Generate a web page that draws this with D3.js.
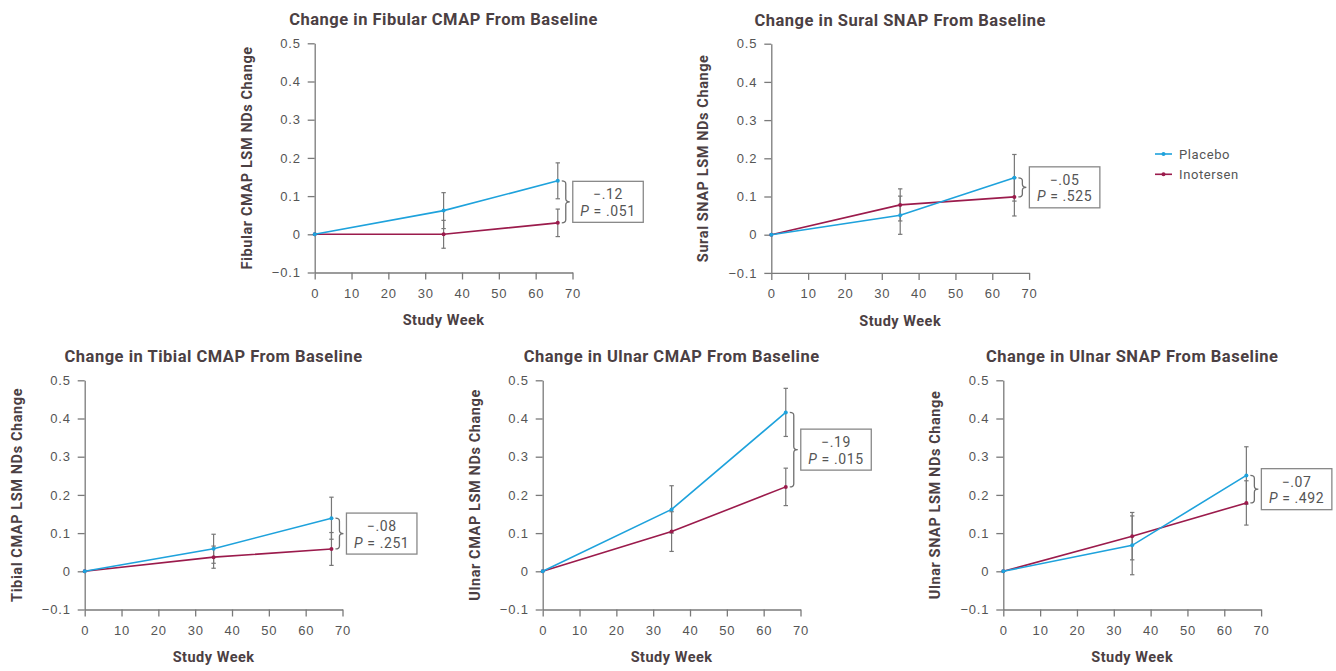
<!DOCTYPE html>
<html>
<head>
<meta charset="utf-8">
<script src="https://cdn.jsdelivr.net/npm/d3@7"></script>
<style>
  body { margin: 0; background: #fff; }
  svg { font-family: Roboto, "Noto Sans", sans-serif; }
</style>
</head>
<body>
<svg id="chart" width="1336" height="671"></svg>
<script>
// study weeks per panel
const weeks = [0, 35, 66];
const tibialWeeks = [0, 35, 67];

// LSM change, with half-width of error bars
const fibularPlacebo = [0, 0.062, 0.14];
const fibularPlaceboErr = [0, 0.047, 0.047];
const fibularInotersen = [0, 0, 0.03];
const fibularInotersenErr = [0, 0.0365, 0.036];

const suralPlacebo = [0, 0.051, 0.149];
const suralPlaceboErr = [0, 0.05, 0.061];
const suralInotersen = [0, 0.078, 0.099];
const suralInotersenErr = [0, 0.042, 0.05];

const tibialPlacebo = [0, 0.059, 0.139];
const tibialPlaceboErr = [0, 0.038, 0.055];
const tibialInotersen = [0, 0.037, 0.0585];
const tibialInotersenErr = [0, 0.029, 0.043];

const ulnarCmapPlacebo = [0, 0.162, 0.416];
const ulnarCmapPlaceboErr = [0, 0.062, 0.063];
const ulnarCmapInotersen = [0, 0.104, 0.221];
const ulnarCmapInotersenErr = [0, 0.052, 0.049];

const ulnarSnapPlacebo = [0, 0.068, 0.251];
const ulnarSnapPlaceboErr = [0, 0.077, 0.075];
const ulnarSnapInotersen = [0, 0.092, 0.179];
const ulnarSnapInotersenErr = [0, 0.062, 0.058];

const xTicks = [0, 10, 20, 30, 40, 50, 60, 70];
const yTicks = [-0.1, 0, 0.1, 0.2, 0.3, 0.4, 0.5];
const seriesNames = ['Placebo', 'Inotersen'];

const colors = { Placebo: '#1ea2dc', Inotersen: '#9b1b4c' };
const textColor = '#4b4043';
const axisColor = '#7a7a7a';

const panels = [
  {
    title: 'Change in Fibular CMAP From Baseline',
    yLabel: 'Fibular CMAP LSM NDs Change',
    left: 314.7, top: 43.3,
    weeks: weeks,
    placebo: fibularPlacebo, placeboErr: fibularPlaceboErr,
    inotersen: fibularInotersen, inotersenErr: fibularInotersenErr,
    diff: '−.12', p: '.051'
  },
  {
    title: 'Change in Sural SNAP From Baseline',
    yLabel: 'Sural SNAP LSM NDs Change',
    left: 771.3, top: 43.7,
    weeks: weeks,
    placebo: suralPlacebo, placeboErr: suralPlaceboErr,
    inotersen: suralInotersen, inotersenErr: suralInotersenErr,
    diff: '−.05', p: '.525'
  },
  {
    title: 'Change in Tibial CMAP From Baseline',
    yLabel: 'Tibial CMAP LSM NDs Change',
    left: 84.7, top: 380.3,
    weeks: tibialWeeks,
    placebo: tibialPlacebo, placeboErr: tibialPlaceboErr,
    inotersen: tibialInotersen, inotersenErr: tibialInotersenErr,
    diff: '−.08', p: '.251'
  },
  {
    title: 'Change in Ulnar CMAP From Baseline',
    yLabel: 'Ulnar CMAP LSM NDs Change',
    left: 542.7, top: 380.3,
    weeks: weeks,
    placebo: ulnarCmapPlacebo, placeboErr: ulnarCmapPlaceboErr,
    inotersen: ulnarCmapInotersen, inotersenErr: ulnarCmapInotersenErr,
    diff: '−.19', p: '.015'
  },
  {
    title: 'Change in Ulnar SNAP From Baseline',
    yLabel: 'Ulnar SNAP LSM NDs Change',
    left: 1003.3, top: 380.3,
    weeks: weeks,
    placebo: ulnarSnapPlacebo, placeboErr: ulnarSnapPlaceboErr,
    inotersen: ulnarSnapInotersen, inotersenErr: ulnarSnapInotersenErr,
    diff: '−.07', p: '.492'
  }
];

const plotW = 257.8;
const plotH = 229.2;

const svg = d3.select('#chart');

function fmtY(d) {
  if (d === 0) return '0';
  return d3.format('.1f')(d).replace('-', '−');
}

function bracePath(x, y0, y1, w) {
  const m = (y0 + y1) / 2;
  const r = Math.min(3, (y1 - y0) / 4);
  return `M${x},${y0}` +
    `Q${x + w / 2},${y0} ${x + w / 2},${y0 + r}` +
    `L${x + w / 2},${m - r}` +
    `Q${x + w / 2},${m} ${x + w},${m}` +
    `Q${x + w / 2},${m} ${x + w / 2},${m + r}` +
    `L${x + w / 2},${y1 - r}` +
    `Q${x + w / 2},${y1} ${x},${y1}`;
}

function drawPanel(cfg) {
  const g = svg.append('g')
    .attr('transform', `translate(${cfg.left},${cfg.top})`);

  const x = d3.scaleLinear().domain([0, 70]).range([0, plotW]);
  const y = d3.scaleLinear().domain([-0.1, 0.5]).range([plotH, 0]);

  const xAxis = g.append('g')
    .attr('transform', `translate(0,${plotH})`)
    .call(d3.axisBottom(x).tickValues(xTicks).tickSize(7).tickPadding(9).tickSizeOuter(0));
  const yAxis = g.append('g')
    .call(d3.axisLeft(y).tickValues(yTicks).tickFormat(fmtY).tickSize(7).tickPadding(7).tickSizeOuter(0));

  [xAxis, yAxis].forEach((a) => {
    a.selectAll('path, line').attr('stroke', axisColor).attr('stroke-width', 1.3);
    a.selectAll('text')
      .attr('fill', '#555')
      .style('font-size', '13px')
      .style('letter-spacing', '0.8px');
  });

  g.append('text')
    .attr('x', plotW / 2)
    .attr('y', -18)
    .attr('text-anchor', 'middle')
    .attr('fill', textColor)
    .style('font-size', '16.5px')
    .style('letter-spacing', '0.5px')
    .style('font-weight', 'bold')
    .text(cfg.title);

  g.append('text')
    .attr('x', plotW / 2)
    .attr('y', plotH + 53)
    .attr('text-anchor', 'middle')
    .attr('fill', textColor)
    .style('font-size', '14.5px')
    .style('letter-spacing', '0.5px')
    .style('font-weight', 'bold')
    .text('Study Week');

  g.append('text')
    .attr('transform', `translate(-63,${plotH / 2}) rotate(-90)`)
    .attr('text-anchor', 'middle')
    .attr('fill', textColor)
    .style('font-size', '14.5px')
    .style('letter-spacing', '0.6px')
    .style('font-weight', 'bold')
    .text(cfg.yLabel);

  const series = [
    { name: 'Placebo', values: cfg.placebo, errs: cfg.placeboErr },
    { name: 'Inotersen', values: cfg.inotersen, errs: cfg.inotersenErr }
  ].map((s) => ({
    name: s.name,
    points: cfg.weeks.map((w, i) => ({ week: w, value: s.values[i], err: s.errs[i] }))
  }));

  // error bars
  series.forEach((s) => {
    const bars = g.append('g').selectAll('g')
      .data(s.points.filter((d) => d.err > 0))
      .enter()
      .append('g')
      .attr('stroke', '#777')
      .attr('stroke-width', 1.2);

    bars.append('line')
      .attr('x1', (d) => x(d.week)).attr('x2', (d) => x(d.week))
      .attr('y1', (d) => y(d.value + d.err)).attr('y2', (d) => y(d.value - d.err));
    bars.append('line')
      .attr('x1', (d) => x(d.week) - 2.2).attr('x2', (d) => x(d.week) + 2.2)
      .attr('y1', (d) => y(d.value + d.err)).attr('y2', (d) => y(d.value + d.err));
    bars.append('line')
      .attr('x1', (d) => x(d.week) - 2.2).attr('x2', (d) => x(d.week) + 2.2)
      .attr('y1', (d) => y(d.value - d.err)).attr('y2', (d) => y(d.value - d.err));
  });

  const line = d3.line().x((d) => x(d.week)).y((d) => y(d.value));

  // inotersen first so placebo sits on top, as in the original
  series.slice().reverse().forEach((s) => {
    g.append('path')
      .datum(s.points)
      .attr('d', line)
      .attr('fill', 'none')
      .attr('stroke', colors[s.name])
      .attr('stroke-width', 1.6);

    g.append('g').selectAll('circle')
      .data(s.points)
      .enter()
      .append('circle')
      .attr('cx', (d) => x(d.week))
      .attr('cy', (d) => y(d.value))
      .attr('r', 2)
      .attr('fill', colors[s.name]);
  });

  // brace + difference box at the final visit
  const last = cfg.weeks.length - 1;
  const bx = x(cfg.weeks[last]) + 4;
  const yTop = y(cfg.placebo[last]);
  const yBot = y(cfg.inotersen[last]);
  const mid = (yTop + yBot) / 2;

  g.append('path')
    .attr('d', bracePath(bx, yTop, yBot, 8))
    .attr('fill', 'none')
    .attr('stroke', '#6f6f6f')
    .attr('stroke-width', 1.3);

  const boxX = bx + 11;
  const boxW = 70.5;
  const boxH = 41;

  g.append('rect')
    .attr('x', boxX)
    .attr('y', mid - boxH / 2)
    .attr('width', boxW)
    .attr('height', boxH)
    .attr('fill', '#fff')
    .attr('stroke', '#888')
    .attr('stroke-width', 1.3);

  g.append('text')
    .attr('x', boxX + boxW / 2)
    .attr('y', mid - 2.5)
    .attr('text-anchor', 'middle')
    .attr('fill', '#555')
    .style('font-size', '14px')
    .style('letter-spacing', '0.6px')
    .text(cfg.diff);

  const pText = g.append('text')
    .attr('x', boxX + boxW / 2)
    .attr('y', mid + 14)
    .attr('text-anchor', 'middle')
    .attr('fill', '#555')
    .style('font-size', '14px')
    .style('letter-spacing', '0.6px');
  pText.append('tspan').style('font-style', 'italic').text('P');
  pText.append('tspan').text(` = ${cfg.p}`);
}

panels.forEach(drawPanel);

// legend
const legend = svg.append('g').attr('transform', 'translate(1155,154)');
const items = legend.selectAll('g')
  .data(seriesNames)
  .enter()
  .append('g')
  .attr('transform', (d, i) => `translate(0,${i * 20.3})`);

items.append('line')
  .attr('x1', 0).attr('x2', 17)
  .attr('stroke', (d) => colors[d])
  .attr('stroke-width', 1.6);
items.append('circle')
  .attr('cx', 8.5)
  .attr('r', 2)
  .attr('fill', (d) => colors[d]);
items.append('text')
  .attr('x', 24)
  .attr('dy', '0.35em')
  .attr('fill', '#555')
  .style('font-size', '13px')
  .style('letter-spacing', '0.6px')
  .text((d) => d);
</script>
</body>
</html>
